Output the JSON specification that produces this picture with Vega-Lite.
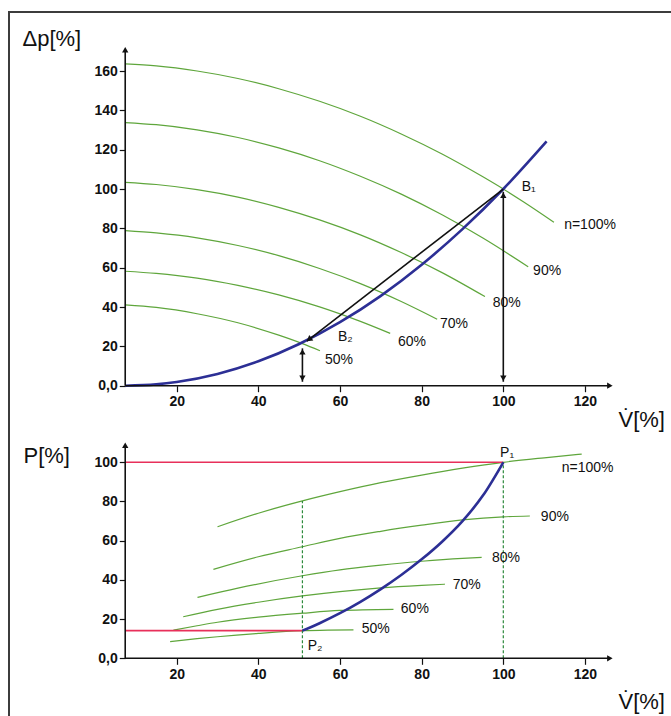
{
  "$schema": "https://vega.github.io/schema/vega-lite/v6.json",
  "width": 664,
  "height": 706,
  "autosize": {"type": "none"},
  "padding": {"left": 9, "top": 12, "right": -2, "bottom": -2},
  "background": "white",
  "config": {
    "view": {"stroke": "#3c3c3c", "strokeWidth": 2},
    "axis": {"domain": false, "grid": false, "ticks": true, "tickColor": "#111", "tickSize": 6, "tickWidth": 1.2, "labelFont": "Liberation Sans", "labelFontSize": 14, "labelFontWeight": "bold", "labelColor": "#111", "labelPadding": 2, "titleFont": "Liberation Sans", "titleFontSize": 22, "titleFontWeight": "normal", "titleColor": "#111", "titleAngle": 0, "titleAlign": "left", "titleBaseline": "alphabetic"},
    "text": {"font": "Liberation Sans"}
  },
  "layer": [
    {
      "encoding": {
        "x": {"field": "V", "type": "quantitative", "scale": {"domain": [-21.063, 141.56], "nice": false, "zero": false}, "axis": {"orient": "bottom", "offset": -332.3, "values": [20, 40, 60, 80, 100, 120], "title": "V\u0307[%]", "titleX": 609, "titleY": 40.3, "labelPadding": 3}},
        "y": {"field": "Y", "type": "quantitative", "scale": {"domain": [-168.94, 190.0], "nice": false, "zero": false}, "axis": {"orient": "left", "offset": -116.3, "values": [0, 20, 40, 60, 80, 100, 120, 140, 160], "labelExpr": "datum.value === 0 ? '0,0' : datum.label", "title": "Δp[%]", "titleX": -103.3, "titleY": 33}}
      },
      "layer": [
        {
          "data": {"values": [
            {"n": "100", "V": 7.4, "Y": 163.6}, {"n": "100", "V": 15, "Y": 162.6}, {"n": "100", "V": 25, "Y": 160.0}, {"n": "100", "V": 35, "Y": 156.2}, {"n": "100", "V": 45, "Y": 151.0}, {"n": "100", "V": 55, "Y": 144.6}, {"n": "100", "V": 65, "Y": 137.0}, {"n": "100", "V": 75, "Y": 128.0}, {"n": "100", "V": 85, "Y": 117.8}, {"n": "100", "V": 95, "Y": 106.2}, {"n": "100", "V": 100, "Y": 100.0}, {"n": "100", "V": 105, "Y": 93.4}, {"n": "100", "V": 112.4, "Y": 83.1},
            {"n": "90", "V": 7.4, "Y": 133.8}, {"n": "90", "V": 15, "Y": 132.7}, {"n": "90", "V": 25, "Y": 130.1}, {"n": "90", "V": 35, "Y": 126.2}, {"n": "90", "V": 45, "Y": 120.9}, {"n": "90", "V": 55, "Y": 114.4}, {"n": "90", "V": 65, "Y": 106.5}, {"n": "90", "V": 75, "Y": 97.4}, {"n": "90", "V": 85, "Y": 86.9}, {"n": "90", "V": 95, "Y": 75.1}, {"n": "90", "V": 106.1, "Y": 60.5},
            {"n": "80", "V": 7.4, "Y": 103.4}, {"n": "80", "V": 15, "Y": 102.3}, {"n": "80", "V": 25, "Y": 99.7}, {"n": "80", "V": 35, "Y": 95.9}, {"n": "80", "V": 45, "Y": 90.7}, {"n": "80", "V": 55, "Y": 84.3}, {"n": "80", "V": 65, "Y": 76.7}, {"n": "80", "V": 75, "Y": 67.7}, {"n": "80", "V": 85, "Y": 57.5}, {"n": "80", "V": 95.5, "Y": 45.3},
            {"n": "70", "V": 7.4, "Y": 78.9}, {"n": "70", "V": 15, "Y": 77.7}, {"n": "70", "V": 25, "Y": 75.2}, {"n": "70", "V": 35, "Y": 71.3}, {"n": "70", "V": 45, "Y": 66.1}, {"n": "70", "V": 55, "Y": 59.6}, {"n": "70", "V": 65, "Y": 51.9}, {"n": "70", "V": 75, "Y": 42.8}, {"n": "70", "V": 83.8, "Y": 33.8},
            {"n": "60", "V": 7.4, "Y": 58.2}, {"n": "60", "V": 15, "Y": 57.1}, {"n": "60", "V": 25, "Y": 54.7}, {"n": "60", "V": 35, "Y": 51.0}, {"n": "60", "V": 45, "Y": 46.2}, {"n": "60", "V": 55, "Y": 40.1}, {"n": "60", "V": 65, "Y": 32.7}, {"n": "60", "V": 72.3, "Y": 26.6},
            {"n": "50", "V": 7.4, "Y": 41.1}, {"n": "50", "V": 15, "Y": 39.8}, {"n": "50", "V": 25, "Y": 36.6}, {"n": "50", "V": 35, "Y": 32.0}, {"n": "50", "V": 45, "Y": 25.7}, {"n": "50", "V": 50.8, "Y": 21.4}, {"n": "50", "V": 55.1, "Y": 17.8}
          ]},
          "mark": {"type": "line", "color": "#5fa63c", "strokeWidth": 1.2, "interpolate": "monotone"},
          "encoding": {"detail": {"field": "n", "type": "nominal"}}
        },
        {
          "data": {"values": [
            {"V": 7.4, "Y": 0}, {"V": 15, "Y": 0.7}, {"V": 20, "Y": 1.9}, {"V": 30, "Y": 6.0}, {"V": 40, "Y": 12.4}, {"V": 50, "Y": 21.2}, {"V": 60, "Y": 32.3}, {"V": 70, "Y": 45.7}, {"V": 80, "Y": 61.5}, {"V": 90, "Y": 79.6}, {"V": 100, "Y": 100}, {"V": 110.6, "Y": 124.2}
          ]},
          "mark": {"type": "line", "color": "#2c2f95", "strokeWidth": 2.6, "interpolate": "monotone"}
        },
        {
          "data": {"values": [
            {"V": 7.4, "Y": 0, "V2": 7.4, "Y2": 170.8},
            {"V": 7.4, "Y": 0, "V2": 126.1, "Y2": 0},
            {"V": 100, "Y": 100, "V2": 51.9, "Y2": 22.7},
            {"V": 100, "Y": 2.0, "V2": 100, "Y2": 98.6},
            {"V": 50.8, "Y": 2.0, "V2": 50.8, "Y2": 19.0}
          ]},
          "mark": {"type": "rule", "color": "#111", "strokeWidth": 1.6},
          "encoding": {"x2": {"field": "V2"}, "y2": {"field": "Y2"}}
        },
        {
          "data": {"values": [{"V": 7.4, "Y": 170.8}, {"V": 100, "Y": 96.8}, {"V": 50.8, "Y": 17.2}]},
          "mark": {"type": "point", "shape": "triangle-up", "filled": true, "size": 40, "color": "#111", "opacity": 1}
        },
        {
          "data": {"values": [{"V": 100, "Y": 3.8}, {"V": 50.8, "Y": 3.8}]},
          "mark": {"type": "point", "shape": "triangle-down", "filled": true, "size": 40, "color": "#111", "opacity": 1}
        },
        {
          "data": {"values": [{"V": 126.1, "Y": 0}]},
          "mark": {"type": "point", "shape": "triangle-right", "filled": true, "size": 40, "color": "#111", "opacity": 1}
        },
        {
          "data": {"values": [{"V": 52.4, "Y": 23.5}]},
          "mark": {"type": "point", "shape": "triangle-up", "angle": 233, "filled": true, "size": 45, "color": "#111", "opacity": 1}
        },
        {
          "data": {"values": [
            {"V": 114.9, "Y": 81.7, "label": "n=100%"},
            {"V": 107.3, "Y": 58.5, "label": "90%"},
            {"V": 97.4, "Y": 42.0, "label": "80%"},
            {"V": 84.5, "Y": 31.4, "label": "70%"},
            {"V": 74.2, "Y": 22.4, "label": "60%"},
            {"V": 56.3, "Y": 13.1, "label": "50%"},
            {"V": 59.5, "Y": 24.9, "label": "B₂"},
            {"V": 104.5, "Y": 101.2, "label": "B₁"}
          ]},
          "mark": {"type": "text", "align": "left", "baseline": "middle", "fontSize": 14, "color": "#111"},
          "encoding": {"text": {"field": "label"}}
        }
      ]
    },
    {
      "encoding": {
        "x": {"field": "V", "type": "quantitative", "scale": {"domain": [-21.063, 141.56], "nice": false, "zero": false}, "axis": {"orient": "bottom", "offset": -59.7, "values": [20, 40, 60, 80, 100, 120], "title": "V\u0307[%]", "titleX": 609, "titleY": 49.7, "labelPadding": 3}},
        "y": {"field": "Y", "type": "quantitative", "scale": {"domain": [-30.46, 329.74], "nice": false, "zero": false}, "axis": {"orient": "left", "offset": -116.3, "values": [0, 20, 40, 60, 80, 100], "labelExpr": "datum.value === 0 ? '0,0' : datum.label", "title": "P[%]", "titleX": -102.3, "titleY": 450}}
      },
      "layer": [
        {
          "data": {"values": [
            {"n": "100", "V": 30, "Y": 67.1}, {"n": "100", "V": 40, "Y": 74.0}, {"n": "100", "V": 50.8, "Y": 80.3}, {"n": "100", "V": 60, "Y": 85.0}, {"n": "100", "V": 70, "Y": 89.6}, {"n": "100", "V": 80, "Y": 93.5}, {"n": "100", "V": 90, "Y": 97.0}, {"n": "100", "V": 100, "Y": 100}, {"n": "100", "V": 110, "Y": 102.3}, {"n": "100", "V": 119.2, "Y": 104.2},
            {"n": "90", "V": 29, "Y": 45.4}, {"n": "90", "V": 40, "Y": 51.8}, {"n": "90", "V": 50.8, "Y": 56.9}, {"n": "90", "V": 60, "Y": 61.2}, {"n": "90", "V": 70, "Y": 64.8}, {"n": "90", "V": 80, "Y": 67.9}, {"n": "90", "V": 90, "Y": 70.6}, {"n": "90", "V": 100, "Y": 72.2}, {"n": "90", "V": 106.5, "Y": 72.6},
            {"n": "80", "V": 25.1, "Y": 31.1}, {"n": "80", "V": 35, "Y": 35.8}, {"n": "80", "V": 50.8, "Y": 42.1}, {"n": "80", "V": 60, "Y": 45.1}, {"n": "80", "V": 70, "Y": 47.5}, {"n": "80", "V": 80, "Y": 49.5}, {"n": "80", "V": 90, "Y": 51.0}, {"n": "80", "V": 94.7, "Y": 51.5},
            {"n": "70", "V": 21.6, "Y": 21.2}, {"n": "70", "V": 30, "Y": 25.0}, {"n": "70", "V": 40, "Y": 28.6}, {"n": "70", "V": 50.8, "Y": 31.8}, {"n": "70", "V": 60, "Y": 34.0}, {"n": "70", "V": 70, "Y": 35.9}, {"n": "70", "V": 80, "Y": 37.2}, {"n": "70", "V": 85.7, "Y": 37.8},
            {"n": "60", "V": 19.2, "Y": 14.4}, {"n": "60", "V": 25, "Y": 16.6}, {"n": "60", "V": 30, "Y": 18.4}, {"n": "60", "V": 40, "Y": 21.0}, {"n": "60", "V": 50.8, "Y": 23.0}, {"n": "60", "V": 60, "Y": 24.4}, {"n": "60", "V": 73.1, "Y": 25.0},
            {"n": "50", "V": 18.4, "Y": 8.5}, {"n": "50", "V": 25, "Y": 10.0}, {"n": "50", "V": 30, "Y": 11.0}, {"n": "50", "V": 40, "Y": 12.7}, {"n": "50", "V": 50.8, "Y": 14.1}, {"n": "50", "V": 57, "Y": 14.4}, {"n": "50", "V": 63.3, "Y": 14.5}
          ]},
          "mark": {"type": "line", "color": "#5fa63c", "strokeWidth": 1.2, "interpolate": "monotone"},
          "encoding": {"detail": {"field": "n", "type": "nominal"}}
        },
        {
          "data": {"values": [{"V": 7.4, "V2": 100, "Y": 100}, {"V": 7.4, "V2": 50.8, "Y": 14.1}]},
          "mark": {"type": "rule", "color": "#e8305a", "strokeWidth": 1.6},
          "encoding": {"x2": {"field": "V2"}}
        },
        {
          "data": {"values": [{"V": 100, "Y": 0, "Y2": 100}, {"V": 50.8, "Y": 0, "Y2": 80.3}]},
          "mark": {"type": "rule", "color": "#2d8a3c", "strokeWidth": 1.2, "strokeDash": [3, 2]},
          "encoding": {"y2": {"field": "Y2"}}
        },
        {
          "data": {"values": [
            {"V": 50.8, "Y": 14.1}, {"V": 55, "Y": 17.9}, {"V": 60, "Y": 23.0}, {"V": 65, "Y": 28.8}, {"V": 70, "Y": 35.3}, {"V": 75, "Y": 42.5}, {"V": 80, "Y": 50.5}, {"V": 85, "Y": 59.5}, {"V": 90, "Y": 70.0}, {"V": 95, "Y": 83.0}, {"V": 100, "Y": 100}
          ]},
          "mark": {"type": "line", "color": "#2c2f95", "strokeWidth": 2.6, "interpolate": "monotone"}
        },
        {
          "data": {"values": [
            {"V": 7.4, "Y": 0, "V2": 7.4, "Y2": 108.7},
            {"V": 7.4, "Y": 0, "V2": 126.1, "Y2": 0}
          ]},
          "mark": {"type": "rule", "color": "#111", "strokeWidth": 1.6},
          "encoding": {"x2": {"field": "V2"}, "y2": {"field": "Y2"}}
        },
        {
          "data": {"values": [{"V": 7.4, "Y": 108.7}]},
          "mark": {"type": "point", "shape": "triangle-up", "filled": true, "size": 40, "color": "#111", "opacity": 1}
        },
        {
          "data": {"values": [{"V": 126.1, "Y": 0}]},
          "mark": {"type": "point", "shape": "triangle-right", "filled": true, "size": 40, "color": "#111", "opacity": 1}
        },
        {
          "data": {"values": [
            {"V": 99.2, "Y": 104.7, "label": "P₁"},
            {"V": 114.3, "Y": 97.2, "label": "n=100%"},
            {"V": 109.2, "Y": 72.1, "label": "90%"},
            {"V": 97.2, "Y": 51.2, "label": "80%"},
            {"V": 87.6, "Y": 37.4, "label": "70%"},
            {"V": 74.9, "Y": 25.2, "label": "60%"},
            {"V": 65.3, "Y": 14.8, "label": "50%"},
            {"V": 52.1, "Y": 6.3, "label": "P₂"}
          ]},
          "mark": {"type": "text", "align": "left", "baseline": "middle", "fontSize": 14, "color": "#111"},
          "encoding": {"text": {"field": "label"}}
        }
      ]
    }
  ],
  "resolve": {"scale": {"y": "independent"}, "axis": {"x": "independent"}}
}
